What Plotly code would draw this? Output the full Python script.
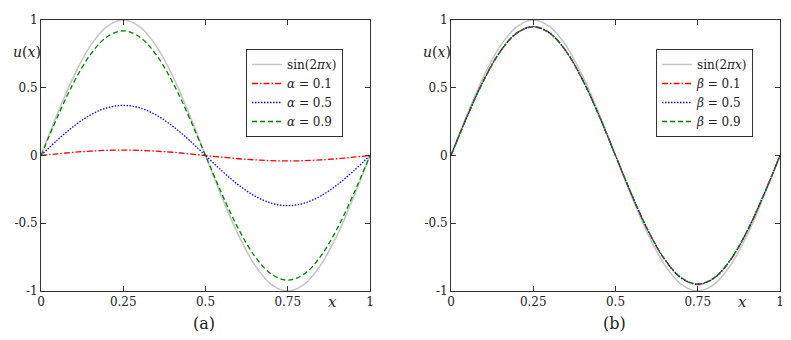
import plotly.graph_objects as go

x = [0, 0.05, 0.1, 0.15, 0.2, 0.25, 0.3, 0.35, 0.4, 0.45, 0.5,
     0.55, 0.6, 0.65, 0.7, 0.75, 0.8, 0.85, 0.9, 0.95, 1]

sin_ref = [0, 0.309, 0.588, 0.809, 0.951, 1, 0.951, 0.809, 0.588, 0.309, 0,
           -0.309, -0.588, -0.809, -0.951, -1, -0.951, -0.809, -0.588, -0.309, 0]

alpha_01 = [0, 0.012, 0.024, 0.032, 0.038, 0.04, 0.038, 0.032, 0.024, 0.012, 0,
            -0.012, -0.024, -0.032, -0.038, -0.04, -0.038, -0.032, -0.024, -0.012, 0]
alpha_05 = [0, 0.114, 0.217, 0.299, 0.352, 0.37, 0.352, 0.299, 0.217, 0.114, 0,
            -0.114, -0.217, -0.299, -0.352, -0.37, -0.352, -0.299, -0.217, -0.114, 0]
alpha_09 = [0, 0.284, 0.541, 0.744, 0.875, 0.92, 0.875, 0.744, 0.541, 0.284, 0,
            -0.284, -0.541, -0.744, -0.875, -0.92, -0.875, -0.744, -0.541, -0.284, 0]

beta_01 = [0, 0.294, 0.560, 0.770, 0.905, 0.952, 0.905, 0.770, 0.560, 0.294, 0,
           -0.294, -0.560, -0.770, -0.905, -0.952, -0.905, -0.770, -0.560, -0.294, 0]
beta_05 = [0, 0.293, 0.558, 0.768, 0.903, 0.950, 0.903, 0.768, 0.558, 0.293, 0,
           -0.293, -0.558, -0.768, -0.903, -0.950, -0.903, -0.768, -0.558, -0.293, 0]
beta_09 = [0, 0.293, 0.557, 0.767, 0.902, 0.948, 0.902, 0.767, 0.557, 0.293, 0,
           -0.293, -0.557, -0.767, -0.902, -0.948, -0.902, -0.767, -0.557, -0.293, 0]

x_ticks = [0, 0.25, 0.5, 0.75, 1]
x_tick_text = ['0', '0.25', '0.5', '0.75', '1']
y_ticks = [-1, -0.5, 0, 0.5, 1]
y_tick_text = ['-1', '-0.5', '0', '0.5', '1']

serif = 'DejaVu Serif'
ink = '#222222'
# the page puts the plot 8px in from the top-left corner, so work in page pixels
OFF = 8
W, H = 791 - OFF, 340 - OFF


def px(v):
    return (v - OFF) / W


def py(v):
    return 1 - (v - OFF) / H


fig = go.Figure()

panels = [
    ('x', 'y', 'legend', '\u03b1', [alpha_01, alpha_05, alpha_09]),
    ('x2', 'y2', 'legend2', '\u03b2', [beta_01, beta_05, beta_09]),
]
styles = [('#ff0000', '6px,2px,1.5px,2px', '0.1'), ('#0000ff', '1.5px,1.5px', '0.5'), ('#008000', '5px,3px', '0.9')]

for xa, ya, leg, sym, series in panels:
    fig.add_trace(go.Scatter(x=x, y=sin_ref, xaxis=xa, yaxis=ya, legend=leg,
                             mode='lines', line=dict(color='#c4c4c4', width=1.5, shape='spline'),
                             name='sin(2<i>\u03c0x</i>)'))
    for vals, (col, dash, lab) in zip(series, styles):
        fig.add_trace(go.Scatter(x=x, y=vals, xaxis=xa, yaxis=ya, legend=leg,
                                 mode='lines', line=dict(color=col, dash=dash, width=1.3, shape='spline'),
                                 name='<i>' + sym + '</i> = ' + lab))

y_dom = [py(291), py(20)]
axis_style = dict(showline=True, linecolor='#333333', linewidth=1, mirror='allticks',
                  ticks='inside', ticklen=5, tickcolor='#333333', showgrid=False,
                  zeroline=False, automargin=False,
                  tickfont=dict(family=serif, size=12, color=ink))

legend_style = dict(xanchor='left', yanchor='top', bordercolor='#333333', borderwidth=1,
                    bgcolor='white', itemwidth=30, tracegroupgap=0,
                    font=dict(family=serif, size=12, color=ink))

fig.update_layout(
    width=W, height=H,
    margin=dict(l=0, r=0, t=0, b=0),
    paper_bgcolor='white', plot_bgcolor='white',
    font=dict(family=serif, size=12, color=ink),
    xaxis=dict(domain=[px(41), px(370)], range=[0, 1], tickvals=x_ticks, ticktext=x_tick_text,
               anchor='y', **axis_style),
    yaxis=dict(domain=y_dom, range=[-1, 1], tickvals=y_ticks, ticktext=y_tick_text,
               anchor='x', **axis_style),
    xaxis2=dict(domain=[px(451), px(780)], range=[0, 1], tickvals=x_ticks, ticktext=x_tick_text,
                anchor='y2', **axis_style),
    yaxis2=dict(domain=y_dom, range=[-1, 1], tickvals=y_ticks, ticktext=y_tick_text,
                anchor='x2', **axis_style),
    legend=dict(x=px(246), y=py(49), **legend_style),
    legend2=dict(x=px(656), y=py(49), **legend_style),
)

# axis labels and panel captions
label = dict(xref='paper', yref='paper', showarrow=False, xanchor='center', yanchor='middle')
for y_lab_x in [27, 437]:
    fig.add_annotation(text='<i>u</i>(<i>x</i>)', x=px(y_lab_x), y=py(52),
                       font=dict(family=serif, size=14, color=ink), **label)
for x_lab in [332, 742]:
    fig.add_annotation(text='<i>x</i>', x=px(x_lab), y=py(302),
                       font=dict(family=serif, size=15, color=ink), **label)
for cap, cx in [('(a)', 204), ('(b)', 614)]:
    fig.add_annotation(text=cap, x=px(cx), y=py(323),
                       font=dict(family=serif, size=16, color=ink), **label)

fig.write_html("out.html")
